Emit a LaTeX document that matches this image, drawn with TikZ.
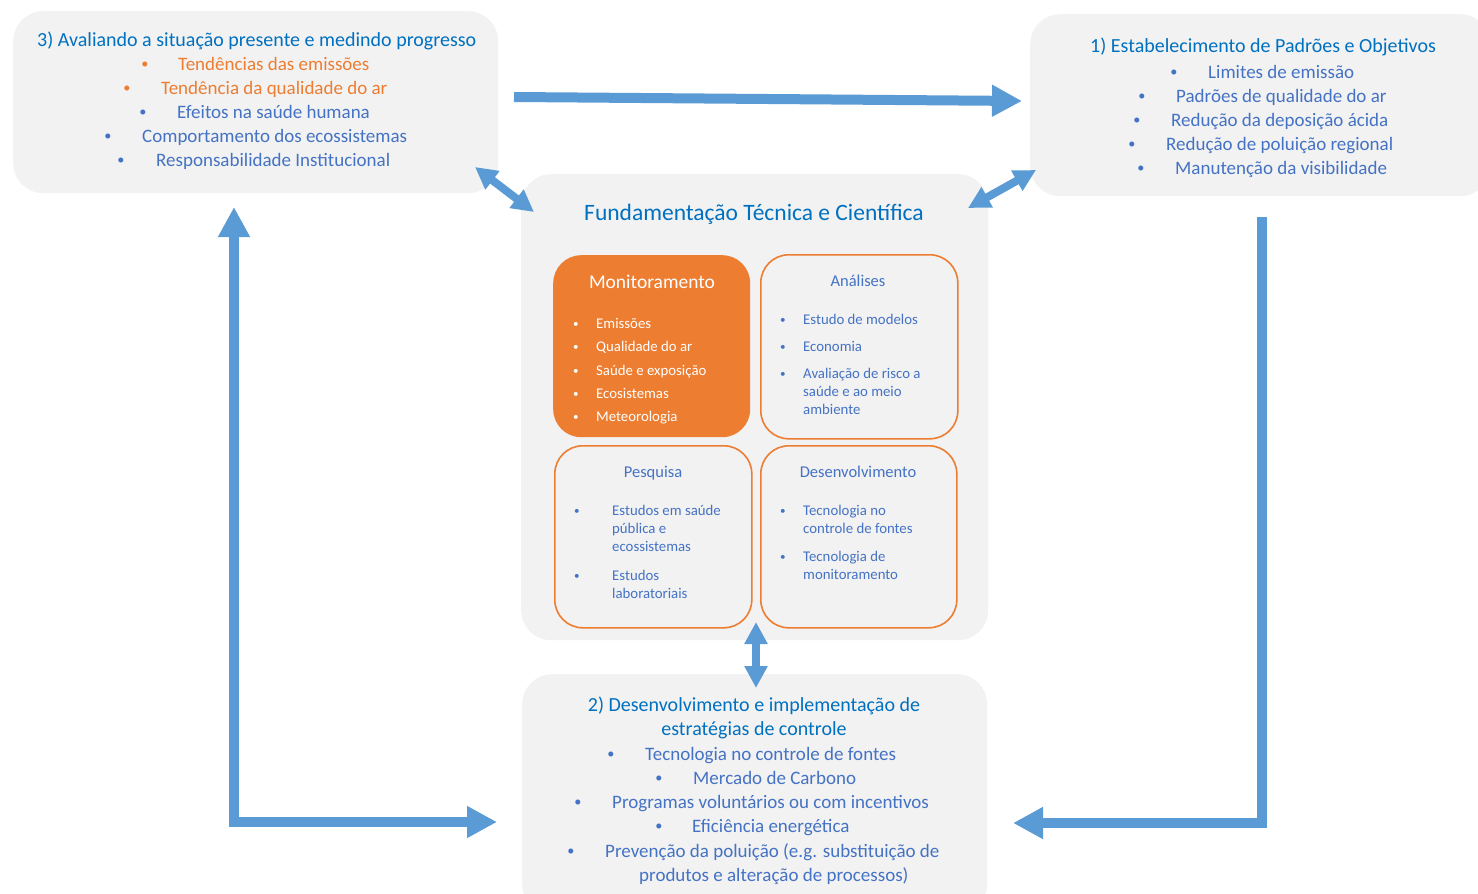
\documentclass[tikz,border=0pt]{standalone}
\usepackage{fontspec}
\setmainfont{Carlito}
\usetikzlibrary{arrows.meta}
\definecolor{gbg}{HTML}{F2F2F2}
\definecolor{arrowblue}{HTML}{5B9BD5}
\definecolor{orng}{HTML}{ED7D31}
\definecolor{tblue}{HTML}{0070C0}
\definecolor{bblue}{HTML}{4472C4}
\newcommand{\mybul}{\raisebox{0.08em}{\scalebox{0.75}{•}}}
\tikzset{
  graybox/.style={fill=gbg, draw=none, rounded corners=30pt, inner sep=0pt, anchor=north west},
  fillbox/.style={fill=orng, draw=none, rounded corners=28pt, inner sep=0pt, anchor=north west},
  linebox/.style={fill=gbg, draw=orng, line width=1.6pt, rounded corners=28pt, inner sep=0pt, anchor=north west},
  txt/.style={anchor=west, inner sep=0pt, text height=1.25em, text depth=0pt},
  ctxt/.style={anchor=center, inner sep=0pt, text height=1.25em, text depth=0pt},
  stxt/.style={anchor=west, inner sep=0pt, text height=1.1em, text depth=0pt},
  big/.style={font=\fontsize{19}{22}\selectfont},
  ttl/.style={font=\fontsize{20}{24}\selectfont},
  small/.style={font=\fontsize{14.8}{17}\selectfont},
  stitle/.style={font=\fontsize{16.5}{20}\selectfont},
  bul/.style={anchor=center, inner sep=0pt, text height=1.25em, text depth=0pt},
  sbul/.style={anchor=center, inner sep=0pt, text height=1.1em, text depth=0pt},
  fatarrow/.style={draw=arrowblue, line width=10pt, -{Triangle[length=30pt,width=30pt]}},
  fatboth/.style={draw=arrowblue, line width=10pt, {Triangle[length=30pt,width=30pt]}-{Triangle[length=30pt,width=30pt]}},
  thinboth/.style={draw=arrowblue, line width=8pt, {Triangle[length=22pt,width=22pt]}-{Triangle[length=22pt,width=22pt]}},
}
\begin{document}
\begin{tikzpicture}[x=1pt,y=-1pt]
\useasboundingbox (0,0) rectangle (1478,894);
\clip (0,0) rectangle (1478,894);
% gray boxes
\node[graybox, minimum width=485pt, minimum height=182pt] (b3) at (13,11) {};
\node[graybox, minimum width=460pt, minimum height=182pt] (b1) at (1030,14) {};
\node[graybox, minimum width=467pt, minimum height=466pt] (bc) at (521,174) {};
\node[graybox, minimum width=465pt, minimum height=240pt] (b2) at (522,674) {};
% inner boxes
\node[fillbox, minimum width=197pt, minimum height=182pt] (mon) at (553,255) {};
\node[linebox, minimum width=197pt, minimum height=184pt] (ana) at (760,254) {};
\node[linebox, minimum width=197pt, minimum height=182pt] (pes) at (554,445) {};
\node[linebox, minimum width=196pt, minimum height=182pt] (dev) at (760,445) {};

% Box 3 text
\node[txt, ttl, tblue] (t3) at (37,40) {3) Avaliando a situação presente e medindo progresso};
\node[bul, big, orng] (t3b1) at (145,64) {\mybul};
\node[txt, big, orng] (t3i1) at (178,64) {Tendências das emissões};
\node[bul, big, orng] (t3b2) at (127,88) {\mybul};
\node[txt, big, orng] (t3i2) at (161,88) {Tendência da qualidade do ar};
\node[bul, big, bblue] (t3b3) at (143,112) {\mybul};
\node[txt, big, bblue] (t3i3) at (177,112) {Efeitos na saúde humana};
\node[bul, big, bblue] (t3b4) at (108,136) {\mybul};
\node[txt, big, bblue] (t3i4) at (142,136) {Comportamento dos ecossistemas};
\node[bul, big, bblue] (t3b5) at (121,160) {\mybul};
\node[txt, big, bblue] (t3i5) at (156,160) {Responsabilidade Institucional};

% Box 1 text
\node[txt, ttl, tblue] (t1) at (1090,46) {1) Estabelecimento de Padrões e Objetivos};
\node[bul, big, bblue] (t1b1) at (1174,72) {\mybul};
\node[txt, big, bblue] (t1i1) at (1208,72) {Limites de emissão};
\node[bul, big, bblue] (t1b2) at (1142,96) {\mybul};
\node[txt, big, bblue] (t1i2) at (1176,96) {Padrões de qualidade do ar};
\node[bul, big, bblue] (t1b3) at (1137,120) {\mybul};
\node[txt, big, bblue] (t1i3) at (1171,120) {Redução da deposição ácida};
\node[bul, big, bblue] (t1b4) at (1132,144) {\mybul};
\node[txt, big, bblue] (t1i4) at (1166,144) {Redução de poluição regional};
\node[bul, big, bblue] (t1b5) at (1141,168) {\mybul};
\node[txt, big, bblue] (t1i5) at (1175,168) {Manutenção da visibilidade};

% Center title
\node[ctxt, tblue, font=\fontsize{23.5}{28}\selectfont] (tc) at (754,214) {Fundamentação Técnica e Científica};

% Monitoramento
\node[ctxt, white, font=\fontsize{19.5}{23}\selectfont] (mont) at (652,282) {Monitoramento};
\node[sbul, small, white] (mb1) at (576,323) {\mybul};
\node[stxt, small, white] (mi1) at (596,323) {Emissões};
\node[sbul, small, white] (mb2) at (576,346) {\mybul};
\node[stxt, small, white] (mi2) at (596,346) {Qualidade do ar};
\node[sbul, small, white] (mb3) at (576,370) {\mybul};
\node[stxt, small, white] (mi3) at (596,370) {Saúde e exposição};
\node[sbul, small, white] (mb4) at (576,393) {\mybul};
\node[stxt, small, white] (mi4) at (596,393) {Ecosistemas};
\node[sbul, small, white] (mb5) at (576,416) {\mybul};
\node[stxt, small, white] (mi5) at (596,416) {Meteorologia};

% Analises
\node[ctxt, stitle, bblue] (anat) at (858,280) {Análises};
\node[sbul, small, bblue] (ab1) at (783,319) {\mybul};
\node[stxt, small, bblue] (ai1) at (803,319) {Estudo de modelos};
\node[sbul, small, bblue] (ab2) at (783,346) {\mybul};
\node[stxt, small, bblue] (ai2) at (803,346) {Economia};
\node[sbul, small, bblue] (ab3) at (783,373) {\mybul};
\node[stxt, small, bblue] (ai3a) at (803,373) {Avaliação de risco a};
\node[stxt, small, bblue] (ai3b) at (803,391) {saúde e ao meio};
\node[stxt, small, bblue] (ai3c) at (803,409) {ambiente};

% Pesquisa
\node[ctxt, stitle, bblue] (pest) at (653,471) {Pesquisa};
\node[sbul, small, bblue] (pb1) at (577,510) {\mybul};
\node[stxt, small, bblue] (pi1a) at (612,510) {Estudos em saúde};
\node[stxt, small, bblue] (pi1b) at (612,528) {pública e};
\node[stxt, small, bblue] (pi1c) at (612,546) {ecossistemas};
\node[sbul, small, bblue] (pb2) at (577,575) {\mybul};
\node[stxt, small, bblue] (pi2a) at (612,575) {Estudos};
\node[stxt, small, bblue] (pi2b) at (612,593) {laboratoriais};

% Desenvolvimento
\node[ctxt, stitle, bblue] (devt) at (858,471) {Desenvolvimento};
\node[sbul, small, bblue] (db1) at (783,510) {\mybul};
\node[stxt, small, bblue] (di1a) at (803,510) {Tecnologia no};
\node[stxt, small, bblue] (di1b) at (803,528) {controle de fontes};
\node[sbul, small, bblue] (db2) at (783,556) {\mybul};
\node[stxt, small, bblue] (di2a) at (803,556) {Tecnologia de};
\node[stxt, small, bblue] (di2b) at (803,574) {monitoramento};

% Box 2 text
\node[ctxt, ttl, tblue] (t2a) at (754,705) {2) Desenvolvimento e implementação de};
\node[ctxt, ttl, tblue] (t2b) at (754,729) {estratégias de controle};
\node[bul, big, bblue] (t2b1) at (611,754) {\mybul};
\node[txt, big, bblue] (t2i1) at (645,754) {Tecnologia no controle de fontes};
\node[bul, big, bblue] (t2b2) at (659,778) {\mybul};
\node[txt, big, bblue] (t2i2) at (693,778) {Mercado de Carbono};
\node[bul, big, bblue] (t2b3) at (578,802) {\mybul};
\node[txt, big, bblue] (t2i3) at (612,802) {Programas voluntários ou com incentivos};
\node[bul, big, bblue] (t2b4) at (659,826) {\mybul};
\node[txt, big, bblue] (t2i4) at (692,826) {Eficiência energética};
\node[bul, big, bblue] (t2b5) at (571,851) {\mybul};
\node[txt, big, bblue] (t2i5a) at (605,851) {Prevenção da poluição (e.g. substituição de};
\node[txt, big, bblue] (t2i5b) at (639,875) {produtos e alteração de processos)};

% arrow end points
\coordinate (a31s) at (514,97);
\coordinate (a31e) at (1022,101);
\coordinate (a12s) at (1262,217);
\coordinate (a12e) at (1013,823);
\coordinate (a23s) at (234,207);
\coordinate (a23e) at (497,822);
\coordinate (d3a) at (475,167);
\coordinate (d3b) at (534,212);
\coordinate (d1a) at (968,208);
\coordinate (d1b) at (1036,170);
\coordinate (v2a) at (756,622);
\coordinate (v2b) at (756,688);

\draw[fatarrow] (a31s) -- (a31e);
\draw[fatarrow] (a12s) |- (a12e);
\draw[fatboth] (a23s) |- (a23e);
\draw[thinboth] (d3a) -- (d3b);
\draw[thinboth] (d1a) -- (d1b);
\draw[thinboth] (v2a) -- (v2b);
\end{tikzpicture}
\end{document}
